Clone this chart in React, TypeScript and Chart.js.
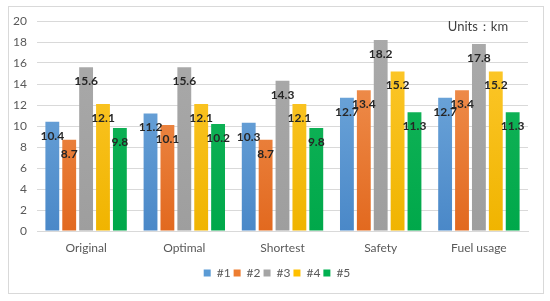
import React, { useEffect, useRef } from "react";
import { Chart, registerables } from "chart.js";

Chart.register(...registerables);

const categories = ["Original", "Optimal", "Shortest", "Safety", "Fuel usage"];
const seriesNames = ["#1", "#2", "#3", "#4", "#5"];
const s1 = [10.4, 11.2, 10.3, 12.7, 12.7];
const s2 = [8.7, 10.1, 8.7, 13.4, 13.4];
const s3 = [15.6, 15.6, 14.3, 18.2, 17.8];
const s4 = [12.1, 12.1, 12.1, 15.2, 15.2];
const s5 = [9.8, 10.2, 9.8, 11.3, 11.3];
const colors = ["#5B9BD5", "#ED7D31", "#A5A5A5", "#FFC000", "#00B050"];
const topColors = ["#7AB0E0", "#F39A5C", "#ABABAB", "#FFCB33", "#19B85E"];
const bottomColors = ["#4A88C8", "#E2691F", "#9E9E9E", "#F0B400", "#00A84A"];
const unitsText = "Units：km";

const FONT = "Lato, 'Open Sans', sans-serif";

const frame = {
  id: "frame",
  afterLayout(chart: any) {
    if (chart.legend) {
      chart.legend.left += 13;
      chart.legend.right += 13;
    }
  },
  beforeDraw(chart: any) {
    const ctx = chart.ctx;
    ctx.save();
    ctx.fillStyle = "#ffffff";
    ctx.fillRect(0, 0, chart.width, chart.height);
    ctx.strokeStyle = "#d9d9d9";
    ctx.lineWidth = 1;
    ctx.strokeRect(8.5, 6.5, 535, 287);
    ctx.restore();
  },
  afterDatasetsDraw(chart: any) {
    const ctx = chart.ctx;
    ctx.save();
    ctx.font = "bold 12px " + FONT;
    ctx.fillStyle = "#262626";
    ctx.textAlign = "center";
    ctx.textBaseline = "middle";
    chart.data.datasets.forEach((ds: any, i: number) => {
      const meta = chart.getDatasetMeta(i);
      meta.data.forEach((el: any, j: number) => {
        const v = ds.data[j];
        ctx.fillText(v.toFixed(1), el.x, el.y + 14);
      });
    });
    ctx.font = "13px " + FONT;
    ctx.fillStyle = "#404040";
    ctx.fillText(unitsText, 478, 27);
    ctx.restore();
  },
};

export default function App() {
  const ref = useRef<HTMLCanvasElement>(null);
  useEffect(() => {
    const datas = [s1, s2, s3, s4, s5];
    const chart = new Chart(ref.current!, {
      type: "bar",
      data: {
        labels: categories,
        datasets: datas.map((d, i) => ({
          label: seriesNames[i],
          data: d,
          backgroundColor: (c: any) => {
            const area = c.chart.chartArea;
            if (!area || c.type !== "data") return colors[i];
            const g = c.chart.ctx.createLinearGradient(0, area.top, 0, area.bottom);
            g.addColorStop(0, topColors[i]);
            g.addColorStop(1, bottomColors[i]);
            return g;
          },
          categoryPercentage: 0.86,
          barPercentage: 0.82,
        })),
      },
      options: {
        animation: false,
        responsive: false,
        devicePixelRatio: 1,
        layout: { padding: { top: 21, right: 22, left: 0, bottom: 12 } },
        plugins: {
          legend: {
            position: "bottom",
            labels: {
              boxWidth: 7,
              boxHeight: 7,
              padding: 3,
              color: "#595959",
              font: { family: FONT, size: 12 },
              generateLabels: (ch: any) =>
                ch.data.datasets.map((ds: any, i: number) => ({
                  text: ds.label,
                  fillStyle: colors[i],
                  strokeStyle: colors[i],
                  lineWidth: 0,
                  hidden: false,
                  datasetIndex: i,
                  fontColor: "#595959",
                })),
            },
          },
          tooltip: { enabled: false },
        },
        scales: {
          x: {
            grid: { display: false },
            border: { color: "#d9d9d9" },
            afterFit(s: any) {
              s.height = 33;
            },
            ticks: { color: "#595959", font: { family: FONT, size: 12 }, padding: 2 },
          },
          y: {
            min: 0,
            max: 20,
            afterFit(s: any) {
              s.width = 37;
            },
            ticks: { stepSize: 2, color: "#595959", font: { family: FONT, size: 12 }, padding: 10 },
            grid: { color: "#d9d9d9", drawTicks: false },
            border: { display: false },
          },
        },
      },
      plugins: [frame],
    });
    return () => chart.destroy();
  }, []);
  return (
    <div style={{ position: "fixed", left: 0, top: 0, width: 550, height: 301 }}>
      <canvas ref={ref} width={550} height={301} style={{ width: 550, height: 301 }} />
    </div>
  );
}
